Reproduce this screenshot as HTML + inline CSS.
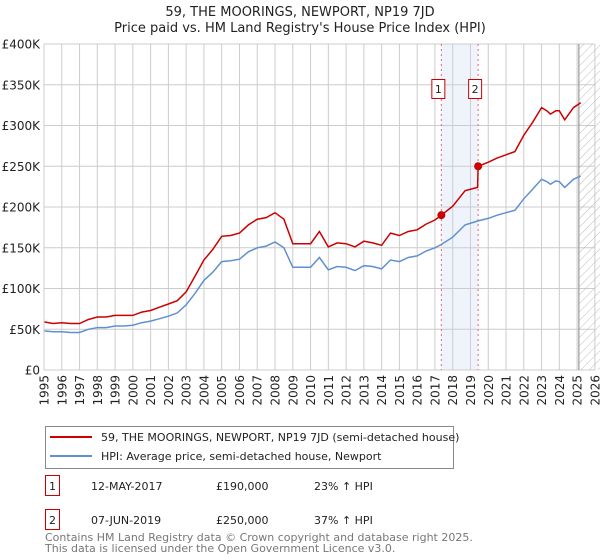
<!DOCTYPE html>
<html><head><meta charset="utf-8"><style>
body{margin:0;background:#fff;width:600px;height:560px;overflow:hidden;font-family:"DejaVu Sans","Liberation Sans",sans-serif;}
svg{position:absolute;left:0;top:0}
</style></head><body>
<svg id="chart" width="600" height="560" font-family="DejaVu Sans, Liberation Sans, sans-serif">
<defs>
<pattern id="hatch" width="6" height="6" patternUnits="userSpaceOnUse" patternTransform="rotate(45)">
<line x1="0" y1="0" x2="0" y2="6" stroke="#bbb" stroke-width="1"/>
</pattern>
<clipPath id="plotclip"><rect x="44" y="44" width="556" height="326"/></clipPath>
</defs>
<text x="300" y="16" text-anchor="middle" font-size="13" fill="#222">59, THE MOORINGS, NEWPORT, NP19 7JD</text>
<text x="300" y="32" text-anchor="middle" font-size="13" fill="#222">Price paid vs. HM Land Registry's House Price Index (HPI)</text>
<g id="grid"></g>
<g id="marks" clip-path="url(#plotclip)"></g>
<g id="axes"></g>

<g>
<rect x="45.5" y="426.5" width="408" height="42" fill="#fff" stroke="#888"/>
<line x1="50" y1="437" x2="92" y2="437" stroke="#cc0000" stroke-width="2"/>
<text x="101" y="441" font-size="11" fill="#222">59, THE MOORINGS, NEWPORT, NP19 7JD (semi-detached house)</text>
<line x1="50" y1="456" x2="92" y2="456" stroke="#6090d0" stroke-width="2"/>
<text x="101" y="460" font-size="11" fill="#222">HPI: Average price, semi-detached house, Newport</text>
</g>

<g>
<rect x="45.5" y="475.5" width="14" height="20" fill="#fff" stroke="#cc0000"/>
<text x="52.5" y="490" text-anchor="middle" font-size="11" fill="#222">1</text>
<text x="91" y="490" font-size="11" fill="#222">12-MAY-2017</text>
<text x="216" y="490" font-size="11" fill="#222">£190,000</text>
<text x="314" y="490" font-size="11" fill="#222">23% ↑ HPI</text>
</g>
<g>
<rect x="45.5" y="509.5" width="14" height="20" fill="#fff" stroke="#cc0000"/>
<text x="52.5" y="524" text-anchor="middle" font-size="11" fill="#222">2</text>
<text x="91" y="524" font-size="11" fill="#222">07-JUN-2019</text>
<text x="216" y="524" font-size="11" fill="#222">£250,000</text>
<text x="314" y="524" font-size="11" fill="#222">37% ↑ HPI</text>
</g>
<text x="45" y="541" font-size="11" fill="#777">Contains HM Land Registry data © Crown copyright and database right 2025.</text>
<text x="45" y="552" font-size="11" fill="#777">This data is licensed under the Open Government Licence v3.0.</text>
</svg>
<script>
const yTicks=[0,50000,100000,150000,200000,250000,300000,350000,400000];
const yTickLabels=["£0","£50K","£100K","£150K","£200K","£250K","£300K","£350K","£400K"];
const xYears=[1995,1996,1997,1998,1999,2000,2001,2002,2003,2004,2005,2006,2007,2008,2009,2010,2011,2012,2013,2014,2015,2016,2017,2018,2019,2020,2021,2022,2023,2024,2025,2026];
const hpiDates=[1995,1995.5,1996,1996.5,1997,1997.5,1998,1998.5,1999,1999.5,2000,2000.5,2001,2001.5,2002,2002.5,2003,2003.5,2004,2004.5,2005,2005.5,2006,2006.5,2007,2007.5,2008,2008.5,2009,2009.5,2010,2010.5,2011,2011.5,2012,2012.5,2013,2013.5,2014,2014.5,2015,2015.5,2016,2016.5,2017,2017.36,2018,2018.7,2019.43,2020,2020.5,2021,2021.5,2022,2022.5,2023,2023.3,2023.5,2023.8,2024,2024.3,2024.8,2025.2];
const hpiValues=[48000,47000,47000,46000,46000,50000,52000,52000,54000,54000,55000,58000,60000,63000,66000,70000,80000,94000,110000,120000,133000,134000,136000,145000,150000,152000,157000,150000,126000,126000,126000,138000,123000,127000,126000,122000,128000,127000,124000,135000,133000,138000,140000,146000,150000,154000,163000,178000,183000,186000,190000,193000,196000,210000,222000,234000,231000,228000,232000,231000,224000,234000,238000];
const priceDates=[1995,1995.5,1996,1996.5,1997,1997.5,1998,1998.5,1999,1999.5,2000,2000.5,2001,2001.5,2002,2002.5,2003,2003.5,2004,2004.5,2005,2005.5,2006,2006.5,2007,2007.5,2008,2008.5,2009,2009.5,2010,2010.5,2011,2011.5,2012,2012.5,2013,2013.5,2014,2014.5,2015,2015.5,2016,2016.5,2017,2017.36,2018,2018.7,2019.4,2019.43,2020,2020.5,2021,2021.5,2022,2022.5,2023,2023.3,2023.5,2023.8,2024,2024.3,2024.8,2025.2];
const priceValues=[59000,57000,58000,57000,57000,62000,65000,65000,67000,67000,67000,71000,73000,77000,81000,85000,96000,115000,135000,148000,164000,165000,168000,178000,185000,187000,193000,185000,155000,155000,155000,170000,151000,156000,155000,151000,158000,156000,153000,168000,165000,170000,172000,179000,184000,190000,201000,220000,224000,250000,255000,260000,264000,268000,288000,304000,322000,318000,314000,318000,318000,307000,322000,328000];
const saleDates=[2017.36,2019.43];
const salePrices=[190000,250000];
const saleLabels=["1","2"];
const forecastStart=2025.1;

const NS="http://www.w3.org/2000/svg";
const X0=44,PX=17.77,Y0=370,YTOP=44;
function xs(t){return X0+(t-1995)*PX;}
function ys(v){return Y0-(v/400000)*(Y0-YTOP);}
function mk(tag,attrs,parent){const e=document.createElementNS(NS,tag);for(const k in attrs)e.setAttribute(k,attrs[k]);parent.appendChild(e);return e;}
const grid=document.getElementById('grid'),marks=document.getElementById('marks'),axes=document.getElementById('axes');
const XR=xs(2026);
// sale band
const band=mk('rect',{x:xs(saleDates[0]),y:YTOP,width:xs(saleDates[1])-xs(saleDates[0]),height:Y0-YTOP,fill:'#eef3fc'},grid);


yTicks.forEach((v,i)=>{
  const l=mk('line',{x1:X0,x2:XR,y1:ys(v),y2:ys(v),stroke:'#cccccc','stroke-width':1},grid);
  
  
  const t=mk('text',{x:X0-4,y:ys(v)+4.5,'text-anchor':'end','font-size':12,fill:'#222'},axes);
  t.textContent=yTickLabels[i];
  
  
});
xYears.forEach(yr=>{
  const l=mk('line',{x1:xs(yr),x2:xs(yr),y1:YTOP,y2:Y0,stroke:'#cccccc','stroke-width':1},grid);
  
  
  const t=mk('text',{x:0,y:0,'text-anchor':'end','font-size':12,fill:'#222',transform:'translate('+(xs(yr)+4.5)+','+(Y0+5)+') rotate(-90)'},axes);
  t.textContent=yr;
  
  
});
// forecast hatch
const fh=mk('rect',{x:xs(forecastStart),y:YTOP,width:600-xs(forecastStart),height:Y0-YTOP,fill:'url(#hatch)'},grid);


const fl=mk('line',{x1:xs(forecastStart),x2:xs(forecastStart),y1:YTOP,y2:Y0,stroke:'#999','stroke-width':1.2},grid);


// sale dashed lines and labels
saleDates.forEach((d,i)=>{
  const l=mk('line',{x1:xs(d),x2:xs(d),y1:YTOP,y2:Y0,stroke:'#ee6666','stroke-width':1,'stroke-dasharray':'2,3'},grid);
  
  
  const g=mk('g',{},axes);
  
  
  mk('rect',{x:xs(d)-9.5,y:79.5,width:13,height:19,fill:'#fff',stroke:'#cc0000'},g);
  const t=mk('text',{x:xs(d)-3,y:93,'text-anchor':'middle','font-size':11,fill:'#222'},g);
  t.textContent=saleLabels[i];
});
function path(ds,vs){return ds.map((d,i)=>(i?'L':'M')+xs(d).toFixed(1)+','+ys(vs[i]).toFixed(1)).join(' ');}
const hp=mk('path',{d:path(hpiDates,hpiValues),fill:'none',stroke:'#6090d0','stroke-width':1.5},marks);


const pp=mk('path',{d:path(priceDates,priceValues),fill:'none',stroke:'#cc0000','stroke-width':1.5},marks);


saleDates.forEach((d,i)=>{
  const c=mk('circle',{cx:xs(d),cy:ys(salePrices[i]),r:4,fill:'#cc0000'},marks);
  
  
});
const ax=mk('line',{x1:X0,x2:X0,y1:YTOP,y2:Y0,stroke:'#ccc'},axes);


</script>
</body></html>
